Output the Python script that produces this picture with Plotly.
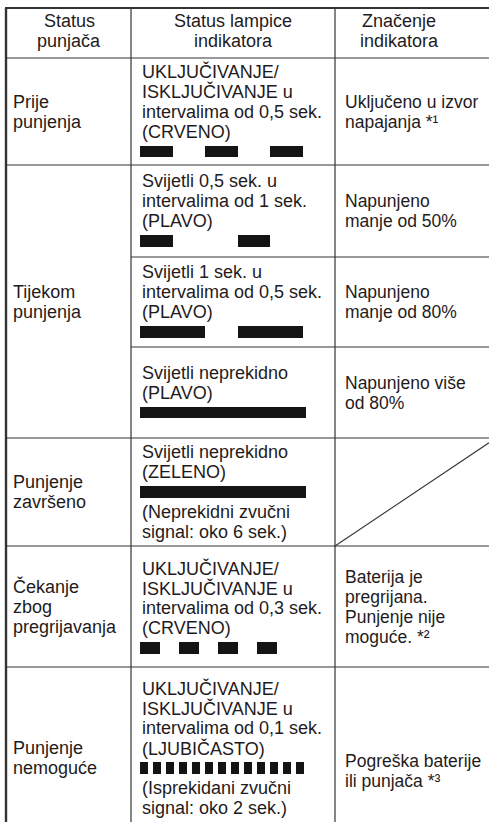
import plotly.graph_objects as go

# ---------------- data ----------------
header_lines = [["Status", "punjača"], ["Status lampice", "indikatora"], ["Značenje", "indikatora"]]

status_lines = [
    ["Prije", "punjenja"],
    ["Tijekom", "punjenja"],
    ["Punjenje", "završeno"],
    ["Čekanje", "zbog", "pregrijavanja"],
    ["Punjenje", "nemoguće"],
]

# None marks the slot where the blink pattern is drawn
lamp_lines = [
    ["UKLJUČIVANJE/", "ISKLJUČIVANJE u", "intervalima od 0,5 sek.", "(CRVENO)", None],
    ["Svijetli 0,5 sek. u", "intervalima od 1 sek.", "(PLAVO)", None],
    ["Svijetli 1 sek. u", "intervalima od 0,5 sek.", "(PLAVO)", None],
    ["Svijetli neprekidno", "(PLAVO)", None],
    ["Svijetli neprekidno", "(ZELENO)", None, "(Neprekidni zvučni", "signal: oko 6 sek.)"],
    ["UKLJUČIVANJE/", "ISKLJUČIVANJE u", "intervalima od 0,3 sek.", "(CRVENO)", None],
    ["UKLJUČIVANJE/", "ISKLJUČIVANJE u", "intervalima od 0,1 sek.", "(LJUBIČASTO)", None,
     "(Isprekidani zvučni", "signal: oko 2 sek.)"],
]

# lamp ON intervals in seconds (start, end)
blink_on = [
    [(0.0, 0.5), (1.0, 1.5), (2.0, 2.5)],
    [(0.0, 0.5), (1.5, 2.0)],
    [(0.0, 1.0), (1.5, 2.5)],
    [(0.0, 2.55)],
    [(0.0, 2.55)],
    [(0.0, 0.3), (0.6, 0.9), (1.2, 1.5), (1.8, 2.1)],
    [(0.0, 0.12), (0.2, 0.32), (0.4, 0.52), (0.6, 0.72), (0.8, 0.92), (1.0, 1.12), (1.2, 1.32),
     (1.4, 1.52), (1.6, 1.72), (1.8, 1.92), (2.0, 2.12), (2.2, 2.32), (2.4, 2.52)],
]

meaning_lines = [
    ["Uključeno u izvor", "napajanja *¹"],
    ["Napunjeno", "manje od 50%"],
    ["Napunjeno", "manje od 80%"],
    ["Napunjeno više", "od 80%"],
    None,
    ["Baterija je", "pregrijana.", "Punjenje nije", "moguće. *²"],
    ["Pogreška baterije", "ili punjača *³"],
]

# ---------------- layout constants ----------------
W, H = 489, 822
FONT = "Liberation Sans, Arial, sans-serif"
COL_FS = [18, 18, 17.5]
TXT = "#1f1b1c"
LINE = "#333333"
PITCH = 20.0
BAR_H = 11.5

XL, XC1, XC2, XR = 6, 131, 335, 489
COL_TEXT_X = [11, 140, 343]
COL_CENTER = [69, 233, 399]
TOP = 8
HDR = 58
HDR_CY = 31
# lamp sub-row bounds
SUB = [(58, 165), (165, 257), (257, 347), (347, 438), (438, 546), (546, 667), (667, 850)]
# status rows -> covering sub rows
STATUS_SPAN = [(58, 165), (165, 438), (438, 546), (546, 667), (667, 850)]
STATUS_CY = [None, None, None, None, 758]
LAMP_CY = [None, None, None, None, None, 608, 748]
MEAN_CY = [None, None, None, None, None, None, 771]

T0_PX = 140.0      # pixel where time 0 of blink pattern sits
PX_PER_S = 65.0

annotations = []
shapes = []


def add_text(x, y, s, fs, anchor="left"):
    annotations.append(dict(x=x, y=y, xref="x", yref="y", text=s, showarrow=False,
                            xanchor=anchor, yanchor="middle",
                            font=dict(family=FONT, size=fs, color=TXT)))


def stack(n, cy):
    return [cy + (i - (n - 1) / 2) * PITCH for i in range(n)]


# header
for c, lines in enumerate(header_lines):
    for y, s in zip(stack(len(lines), HDR_CY), lines):
        add_text(COL_CENTER[c], y, s, 18, anchor="center")

# status column
for r, lines in enumerate(status_lines):
    t, b = STATUS_SPAN[r]
    cy = STATUS_CY[r] if STATUS_CY[r] is not None else (t + b) / 2
    for y, s in zip(stack(len(lines), cy), lines):
        add_text(COL_TEXT_X[0], y, s, COL_FS[0])

# lamp column + bars
bar_y, bar_base, bar_len = [], [], []
for r, lines in enumerate(lamp_lines):
    t, b = SUB[r]
    cy = LAMP_CY[r] if LAMP_CY[r] is not None else (t + b) / 2
    for y, s in zip(stack(len(lines), cy), lines):
        if s is None:
            for (s0, s1) in blink_on[r]:
                bar_y.append(y)
                bar_base.append(s0)
                bar_len.append(s1 - s0)
        else:
            add_text(COL_TEXT_X[1], y, s, COL_FS[1])

# meaning column
for r, lines in enumerate(meaning_lines):
    if lines is None:
        continue
    t, b = SUB[r]
    cy = MEAN_CY[r] if MEAN_CY[r] is not None else (t + b) / 2
    for y, s in zip(stack(len(lines), cy), lines):
        add_text(COL_TEXT_X[2], y, s, COL_FS[2])


def hline(x0, x1, y, w=1.2):
    shapes.append(dict(type="line", xref="x", yref="y", x0=x0, x1=x1, y0=y, y1=y,
                       line=dict(color=LINE, width=w)))


def vline(x, y0, y1, w=1.2):
    shapes.append(dict(type="line", xref="x", yref="y", x0=x, x1=x, y0=y0, y1=y1,
                       line=dict(color=LINE, width=w)))


hline(XL - 1, XR, TOP, 2.2)
hline(XL, XR, HDR)
hline(XL, XR, 165)
hline(XC1, XR, 257)
hline(XC1, XR, 347)
hline(XL, XR, 438)
hline(XL, XR, 546)
hline(XL, XR, 667)
vline(XL, TOP, H + 5, 2.4)
vline(XC1, TOP, H + 5)
vline(XC2, TOP, H + 5)
# diagonal in the empty meaning cell
dg_t, dg_b = SUB[4]
shapes.append(dict(type="line", xref="x", yref="y", x0=XC2, y0=dg_b, x1=XR,
                   y1=dg_b - (XR - XC2) * 0.67, line=dict(color=LINE, width=1.1)))

fig = go.Figure()
fig.add_trace(go.Bar(
    orientation="h", y=bar_y, x=bar_len, base=bar_base, width=[BAR_H] * len(bar_y),
    marker=dict(color="#141414", line=dict(width=0)), xaxis="x2", yaxis="y",
    hoverinfo="skip", showlegend=False))

fig.update_layout(
    width=W, height=H, margin=dict(l=0, r=0, t=0, b=0),
    paper_bgcolor="white", plot_bgcolor="white",
    xaxis=dict(range=[0, W], visible=False, fixedrange=True),
    xaxis2=dict(range=[(0 - T0_PX) / PX_PER_S, (W - T0_PX) / PX_PER_S], overlaying="x",
                visible=False, fixedrange=True),
    yaxis=dict(range=[H, 0], visible=False, fixedrange=True),
    annotations=annotations, shapes=shapes, showlegend=False, bargap=0,
)

fig.write_html("out.html", config={"displayModeBar": False},
               post_script="document.body.style.margin='0px';document.body.style.overflow='hidden';")
